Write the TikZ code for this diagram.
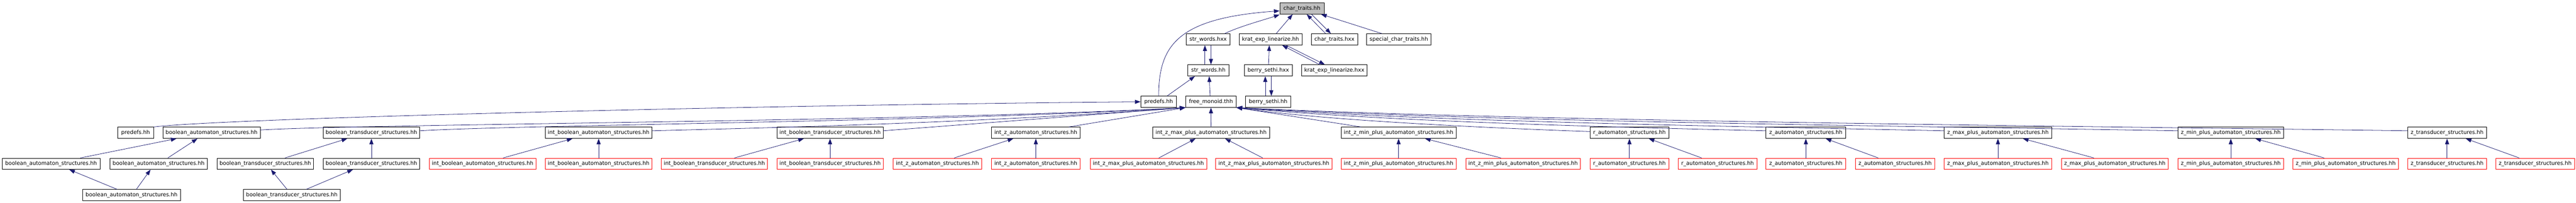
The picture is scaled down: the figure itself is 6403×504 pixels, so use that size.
\documentclass[tikz,border=0pt]{standalone}
\usepackage{fontspec}
\setmainfont{DejaVu Sans}
\usetikzlibrary{arrows.meta,calc}
\definecolor{edgeblue}{RGB}{25,25,112}
\definecolor{redline}{RGB}{255,0,0}
\definecolor{grayfill}{RGB}{191,191,191}
\tikzset{
  box/.style={draw=black, line width=0.75pt, inner sep=0pt, minimum height=21pt,
    font=\fontsize{10pt}{12pt}\selectfont, fill=white},
  redbox/.style={box, draw=redline},
  rootbox/.style={box, fill=grayfill},
  edge/.style={draw=edgeblue, line width=0.75pt, -{Triangle[length=10.5pt,width=7.5pt]}},
}
\begin{document}
\begin{tikzpicture}[x=0.75pt,y=-0.75pt]
\useasboundingbox[fill=white] (0,0) rectangle (6403,504);
% row 0
\node[rootbox, minimum width=82.5pt] (ct) at (3236,21) {char\_traits.hh};
% row 1
\node[box, minimum width=81pt] (swx) at (3003,98) {str\_words.hxx};
\node[box, minimum width=117pt] (kelh) at (3158,98) {krat\_exp\_linearize.hh};
\node[box, minimum width=87pt] (ctx) at (3317,98) {char\_traits.hxx};
\node[box, minimum width=120pt] (sct) at (3477,98) {special\_char\_traits.hh};
% row 2
\node[box, minimum width=77.25pt] (swh) at (3003.5,175) {str\_words.hh};
\node[box, minimum width=89.25pt] (bsx) at (3152.5,175) {berry\_sethi.hxx};
\node[box, minimum width=122.25pt] (kelx) at (3316.5,175) {krat\_exp\_linearize.hxx};
% row 3
\node[box, minimum width=66.75pt] (pd3) at (2880,253) {predefs.hh};
\node[box, minimum width=94.5pt] (fm) at (3010,253) {free\_monoid.thh};
\node[box, minimum width=84pt] (bsh) at (3152,253) {berry\_sethi.hh};
% row 4
\node[box, minimum width=66.75pt] (pd4) at (337,330) {predefs.hh};
\node[box, minimum width=181.5pt] (ba4) at (525.8,330) {boolean\_automaton\_structures.hh};
\node[box, minimum width=180pt] (bt4) at (923.2,330) {boolean\_transducer\_structures.hh};
\node[box, minimum width=198.75pt] (iba4) at (1488,330) {int\_boolean\_automaton\_structures.hh};
\node[box, minimum width=198pt] (ibt4) at (2063.2,330) {int\_boolean\_transducer\_structures.hh};
\node[box, minimum width=165pt] (iza4) at (2574.7,330) {int\_z\_automaton\_structures.hh};
\node[box, minimum width=217.9pt] (izmax4) at (3010.2,330) {int\_z\_max\_plus\_automaton\_structures.hh};
\node[box, minimum width=214.3pt] (izmin4) at (3476.4,330) {int\_z\_min\_plus\_automaton\_structures.hh};
\node[box, minimum width=146.8pt] (ra4) at (4050.2,330) {r\_automaton\_structures.hh};
\node[box, minimum width=149pt] (za4) at (4488.7,330) {z\_automaton\_structures.hh};
\node[box, minimum width=200pt] (zmax4) at (4966.1,330) {z\_max\_plus\_automaton\_structures.hh};
\node[box, minimum width=197.25pt] (zmin4) at (5544.9,330) {z\_min\_plus\_automaton\_structures.hh};
\node[box, minimum width=146.8pt] (zt4) at (6082.5,330) {z\_transducer\_structures.hh};
% row 5
\node[box, minimum width=182pt] (ba5a) at (127,407) {boolean\_automaton\_structures.hh};
\node[box, minimum width=182pt] (ba5b) at (394.2,407) {boolean\_automaton\_structures.hh};
\node[box, minimum width=180pt] (bt5a) at (659.4,407) {boolean\_transducer\_structures.hh};
\node[box, minimum width=180pt] (bt5b) at (923.2,407) {boolean\_transducer\_structures.hh};
\node[redbox, minimum width=198.75pt] (iba5a) at (1199.6,407) {int\_boolean\_automaton\_structures.hh};
\node[redbox, minimum width=198.75pt] (iba5b) at (1488,407) {int\_boolean\_automaton\_structures.hh};
\node[redbox, minimum width=198pt] (ibt5a) at (1775.6,407) {int\_boolean\_transducer\_structures.hh};
\node[redbox, minimum width=198pt] (ibt5b) at (2063.2,407) {int\_boolean\_transducer\_structures.hh};
\node[redbox, minimum width=165.4pt] (iza5a) at (2330,407) {int\_z\_automaton\_structures.hh};
\node[redbox, minimum width=165pt] (iza5b) at (2574.7,407) {int\_z\_automaton\_structures.hh};
\node[redbox, minimum width=217.1pt] (izmax5a) at (2854.5,407) {int\_z\_max\_plus\_automaton\_structures.hh};
\node[redbox, minimum width=217.5pt] (izmax5b) at (3166.3,407) {int\_z\_max\_plus\_automaton\_structures.hh};
\node[redbox, minimum width=214pt] (izmin5a) at (3476.4,407) {int\_z\_min\_plus\_automaton\_structures.hh};
\node[redbox, minimum width=213pt] (izmin5b) at (3785.8,407) {int\_z\_min\_plus\_automaton\_structures.hh};
\node[redbox, minimum width=146.8pt] (ra5a) at (4050.2,407) {r\_automaton\_structures.hh};
\node[redbox, minimum width=146.8pt] (ra5b) at (4269.2,407) {r\_automaton\_structures.hh};
\node[redbox, minimum width=149pt] (za5a) at (4488.7,407) {z\_automaton\_structures.hh};
\node[redbox, minimum width=147.8pt] (za5b) at (4710.5,407) {z\_automaton\_structures.hh};
\node[redbox, minimum width=200pt] (zmax5a) at (4966.1,407) {z\_max\_plus\_automaton\_structures.hh};
\node[redbox, minimum width=198.8pt] (zmax5b) at (5256.6,407) {z\_max\_plus\_automaton\_structures.hh};
\node[redbox, minimum width=197.25pt] (zmin5a) at (5544.9,407) {z\_min\_plus\_automaton\_structures.hh};
\node[redbox, minimum width=196.5pt] (zmin5b) at (5830.5,407) {z\_min\_plus\_automaton\_structures.hh};
\node[redbox, minimum width=146.8pt] (zt5a) at (6082.5,407) {z\_transducer\_structures.hh};
\node[redbox, minimum width=146.8pt] (zt5b) at (6301.4,407) {z\_transducer\_structures.hh};
% row 6
\node[box, minimum width=182pt] (ba6) at (327,485) {boolean\_automaton\_structures.hh};
\node[box, minimum width=180pt] (bt6) at (725.4,485) {boolean\_transducer\_structures.hh};

% ---- edges, top part
\draw[edge] (pd3.north) .. controls (2880,110) and (2930,45) .. ($(ct.west)+(0,6)$);
\draw[edge] ($(swx.north)+(41,0)$) .. controls (3080,66) and (3140,50) .. ($(ct.south west)+(0,1)$);
\draw[edge] ($(kelh.north)+(14,0)$) -- ($(ct.south)+(-23,0)$);
\draw[edge] ($(ctx.north)+(-22,0)$) -- ($(ct.south)+(12,0)$);
\draw[edge] ($(ct.south)+(24,0)$) -- ($(ctx.north)+(-9,0)$);
\draw[edge] ($(sct.north)+(-42,0)$) .. controls (3380,66) and (3330,50) .. ($(ct.south east)+(-8,0)$);
\draw[edge] ($(swh.north)+(-8.5,0)$) -- ($(swx.south)+(-8,0)$);
\draw[edge] ($(swx.south)+(7,0)$) -- ($(swh.north)+(6.5,0)$);
\draw[edge] ($(bsx.north)+(0.5,0)$) -- ($(kelh.south)+(-3,0)$);
\draw[edge] ($(kelx.north)+(-36.5,0)$) -- ($(kelh.south)+(29,0)$);
\draw[edge] ($(kelh.south)+(39,0)$) -- ($(kelx.north)+(-23.5,0)$);
\draw[edge] ($(bsh.north)+(-7,0)$) -- ($(bsx.south)+(-7.5,0)$);
\draw[edge] ($(bsx.south)+(7.5,0)$) -- ($(bsh.north)+(8,0)$);
\draw[edge] ($(pd3.north)+(21,0)$) -- ($(swh.south)+(-33.5,0)$);
\draw[edge] ($(fm.north)+(-2,0)$) -- ($(swh.south)+(2,0)$);

% ---- row 4 to row 3
\draw[edge] (pd4.north east) .. controls (550,295) and (1800,262) .. (pd3.west);
\draw[edge] ($(ba4.east)+(0,-7)$) .. controls (900,308) and (2300,302) .. (fm.south west);
\draw[edge] ($(bt4.east)+(0,-5)$) .. controls (1300,310) and (2350,303) .. (fm.south west);
\draw[edge] ($(iba4.east)+(0,-5)$) .. controls (1900,318) and (2450,305) .. (fm.south west);
\draw[edge] ($(ibt4.east)+(0,-5)$) -- (fm.south west);
\draw[edge] ($(iza4.north)+(82,0)$) -- (fm.south west);
\draw[edge] (izmax4.north) -- (fm.south);
\draw[edge] ($(izmin4.north)+(-93.5,0)$) -- (fm.south east);
\draw[edge] ($(ra4.west)+(0,-3)$) .. controls (3700,318) and (3300,300) .. (fm.south east);
\draw[edge] ($(za4.west)+(0,-5)$) .. controls (4000,316) and (3450,302) .. (fm.south east);
\draw[edge] ($(zmax4.west)+(0,-5)$) .. controls (4300,314) and (3550,302) .. (fm.south east);
\draw[edge] ($(zmin4.west)+(0,-5)$) .. controls (4700,313) and (3650,301) .. (fm.south east);
\draw[edge] ($(zt4.west)+(0,-5)$) .. controls (5100,313) and (3750,300) .. (fm.south east);

% ---- row 5 to row 4
\draw[edge] ($(ba5a.north)+(73,0)$) -- ($(ba4.south)+(-87,0)$);
\draw[edge] ($(ba5b.north)+(23,0)$) -- ($(ba4.south)+(-35,0)$);
\draw[edge] ($(bt5a.north)+(49,0)$) -- ($(bt4.south)+(-60,0)$);
\draw[edge] (bt5b.north) -- (bt4.south);
\draw[edge] ($(iba5a.north)+(51,0)$) -- ($(iba4.south)+(-65,0)$);
\draw[edge] (iba5b.north) -- (iba4.south);
\draw[edge] ($(ibt5a.north)+(50,0)$) -- ($(ibt4.south)+(-65,0)$);
\draw[edge] (ibt5b.north) -- (ibt4.south);
\draw[edge] ($(iza5a.north)+(42,0)$) -- ($(iza4.south)+(-56,0)$);
\draw[edge] (iza5b.north) -- (iza4.south);
\draw[edge] ($(izmax5a.north)+(26,0)$) -- ($(izmax4.south)+(-38.5,0)$);
\draw[edge] ($(izmax5b.north)+(-27.7,0)$) -- ($(izmax4.south)+(35,0)$);
\draw[edge] (izmin5a.north) -- (izmin4.south);
\draw[edge] ($(izmin5b.north)+(-55,0)$) -- ($(izmin4.south)+(65.6,0)$);
\draw[edge] (ra5a.north) -- (ra4.south);
\draw[edge] ($(ra5b.north)+(-39.7,0)$) -- ($(ra4.south)+(48,0)$);
\draw[edge] (za5a.north) -- (za4.south);
\draw[edge] ($(za5b.north)+(-42,0)$) -- ($(za4.south)+(49.3,0)$);
\draw[edge] (zmax5a.north) -- (zmax4.south);
\draw[edge] ($(zmax5b.north)+(-52,0)$) -- ($(zmax4.south)+(62,0)$);
\draw[edge] (zmin5a.north) -- (zmin4.south);
\draw[edge] ($(zmin5b.north)+(-53.5,0)$) -- ($(zmin4.south)+(61,0)$);
\draw[edge] (zt5a.north) -- (zt4.south);
\draw[edge] ($(zt5b.north)+(-39.7,0)$) -- ($(zt4.south)+(46.5,0)$);

% ---- row 6 to row 5
\draw[edge] ($(ba6.north)+(-36,0)$) -- ($(ba5a.south)+(45,0)$);
\draw[edge] ($(ba6.north)+(12,0)$) -- ($(ba5b.south)+(-20,0)$);
\draw[edge] ($(bt6.north)+(-12,0)$) -- ($(bt5a.south)+(14,0)$);
\draw[edge] ($(bt6.north)+(36,0)$) -- ($(bt5b.south)+(-46,0)$);
\end{tikzpicture}
\end{document}
